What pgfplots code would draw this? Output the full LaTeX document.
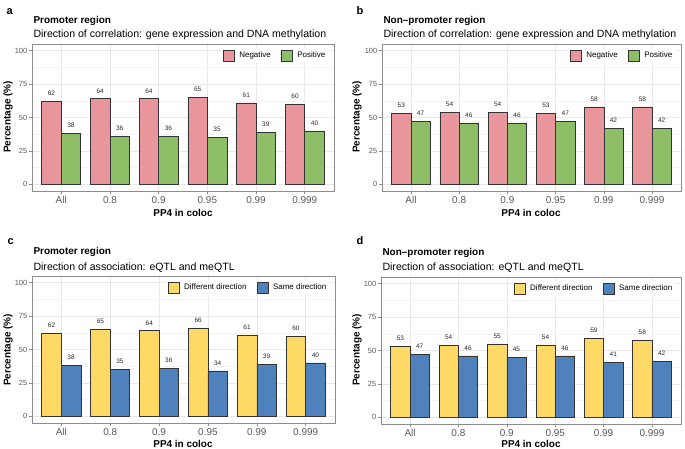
\documentclass[border=0pt]{standalone}
\usepackage{fontspec}
\setmainfont{Liberation Sans}
\usepackage{pgfplots}
\pgfplotsset{compat=1.18}

\definecolor{negcol}{RGB}{232,150,155}
\definecolor{poscol}{RGB}{143,190,105}
\definecolor{diffcol}{RGB}{255,217,102}
\definecolor{samecol}{RGB}{79,129,189}
\definecolor{gridmaj}{RGB}{232,232,232}
\definecolor{gridmin}{RGB}{244,244,244}

\pgfplotsset{
  panel/.style={
    scale only axis, height=147bp,
    xmin=-0.6, xmax=5.6, ymin=-5, ymax=105,
    xtick={0,...,5}, xticklabels={All,0.8,0.9,0.95,0.99,0.999},
    ytick={0,25,50,75,100}, minor ytick={12.5,37.5,62.5,87.5},
    grid=both,
    major grid style={gridmaj, line width=0.6bp},
    minor grid style={gridmin, line width=0.4bp},
    axis line style={black!45, line width=0.6bp},
    tick align=outside, tick pos=left,
    major tick length=3bp, minor tick length=0bp,
    every tick/.style={black!45, line width=0.6bp},
    /pgf/number format/assume math mode=true,
    yticklabel style={font=\fontsize{7.5}{8}\selectfont, text=black!65, inner sep=1.5bp},
    xticklabel style={font=\fontsize{10}{11}\selectfont, text=black!65, inner sep=2bp},
    ybar, bar width=0.4,
    nodes near coords,
    every node near coord/.append style={font=\fontsize{6.5}{7}\selectfont, text=black!85, yshift=2bp},
    legend columns=2,
    legend image code/.code={\draw[#1] (0bp,-5.5bp) rectangle (11bp,5.5bp); \path (14bp,0bp);},
    legend style={draw=none, fill=white, at={(0.985,0.975)}, anchor=north east,
      font=\fontsize{8}{9}\selectfont, inner sep=2bp,
      /tikz/every even column/.append style={column sep=8bp}},
  },
  barA/.style={fill=#1, draw=black!80, line width=0.6bp, bar shift=-0.2},
  barB/.style={fill=#1, draw=black!80, line width=0.6bp, bar shift=0.2},
}

\begin{document}
\begin{tikzpicture}
\path[use as bounding box] (0,0) rectangle (685bp,-449bp);

% panel a
\begin{axis}[panel, width=302bp, at={(32bp,-44bp)}, anchor=north west]
\addplot[barA=negcol] coordinates {(0,62) (1,64) (2,64) (3,65) (4,61) (5,60)};
\addplot[barB=poscol] coordinates {(0,38) (1,36) (2,36) (3,35) (4,39) (5,40)};
\legend{Negative,Positive}
\end{axis}

% panel b
\begin{axis}[panel, width=299bp, at={(382bp,-44bp)}, anchor=north west]
\addplot[barA=negcol] coordinates {(0,53) (1,54) (2,54) (3,53) (4,58) (5,58)};
\addplot[barB=poscol] coordinates {(0,47) (1,46) (2,46) (3,47) (4,42) (5,42)};
\legend{Negative,Positive}
\end{axis}

% panel c
\begin{axis}[panel, width=303bp, at={(32bp,-276bp)}, anchor=north west]
\addplot[barA=diffcol] coordinates {(0,62) (1,65) (2,64) (3,66) (4,61) (5,60)};
\addplot[barB=samecol] coordinates {(0,38) (1,35) (2,36) (3,34) (4,39) (5,40)};
\legend{Different direction,Same direction}
\end{axis}

% panel d
\begin{axis}[panel, width=300bp, at={(381bp,-277bp)}, anchor=north west]
\addplot[barA=diffcol] coordinates {(0,53) (1,54) (2,55) (3,54) (4,59) (5,58)};
\addplot[barB=samecol] coordinates {(0,47) (1,46) (2,45) (3,46) (4,41) (5,42)};
\legend{Different direction,Same direction}
\end{axis}

% panel letters, titles, subtitles
\tikzset{
  plab/.style={anchor=base west, font=\bfseries\fontsize{11}{12}\selectfont},
  ptit/.style={anchor=base west, font=\bfseries\fontsize{10}{12}\selectfont},
  psub/.style={anchor=base west, font=\fontsize{10.6}{12}\selectfont},
  xlab/.style={anchor=base, font=\bfseries\fontsize{10}{11}\selectfont},
  ylab/.style={rotate=90, anchor=center, font=\bfseries\fontsize{10}{11}\selectfont},
}
\node[plab] at (3bp,-14bp) {a};
\node[plab] at (353bp,-14bp) {b};
\node[plab] at (4bp,-244bp) {c};
\node[plab] at (353bp,-244bp) {d};

\node[ptit] at (30bp,-23bp) {Promoter region};
\node[psub] at (30bp,-37bp) {Direction of correlation: gene expression and DNA methylation};
\node[ptit] at (380bp,-23bp) {Non–promoter region};
\node[psub] at (380bp,-37bp) {Direction of correlation: gene expression and DNA methylation};
\node[ptit] at (30bp,-254bp) {Promoter region};
\node[psub] at (30bp,-270bp) {Direction of association: eQTL and meQTL};
\node[ptit] at (379bp,-255bp) {Non–promoter region};
\node[psub] at (379bp,-270bp) {Direction of association: eQTL and meQTL};

\node[xlab] at (183bp,-216bp) {PP4 in coloc};
\node[xlab] at (531bp,-216bp) {PP4 in coloc};
\node[xlab] at (183bp,-447bp) {PP4 in coloc};
\node[xlab] at (531bp,-447bp) {PP4 in coloc};

\node[ylab] at (8bp,-117bp) {Percentage (\%)};
\node[ylab] at (357bp,-117bp) {Percentage (\%)};
\node[ylab] at (8bp,-350bp) {Percentage (\%)};
\node[ylab] at (357bp,-350bp) {Percentage (\%)};
\end{tikzpicture}
\end{document}
